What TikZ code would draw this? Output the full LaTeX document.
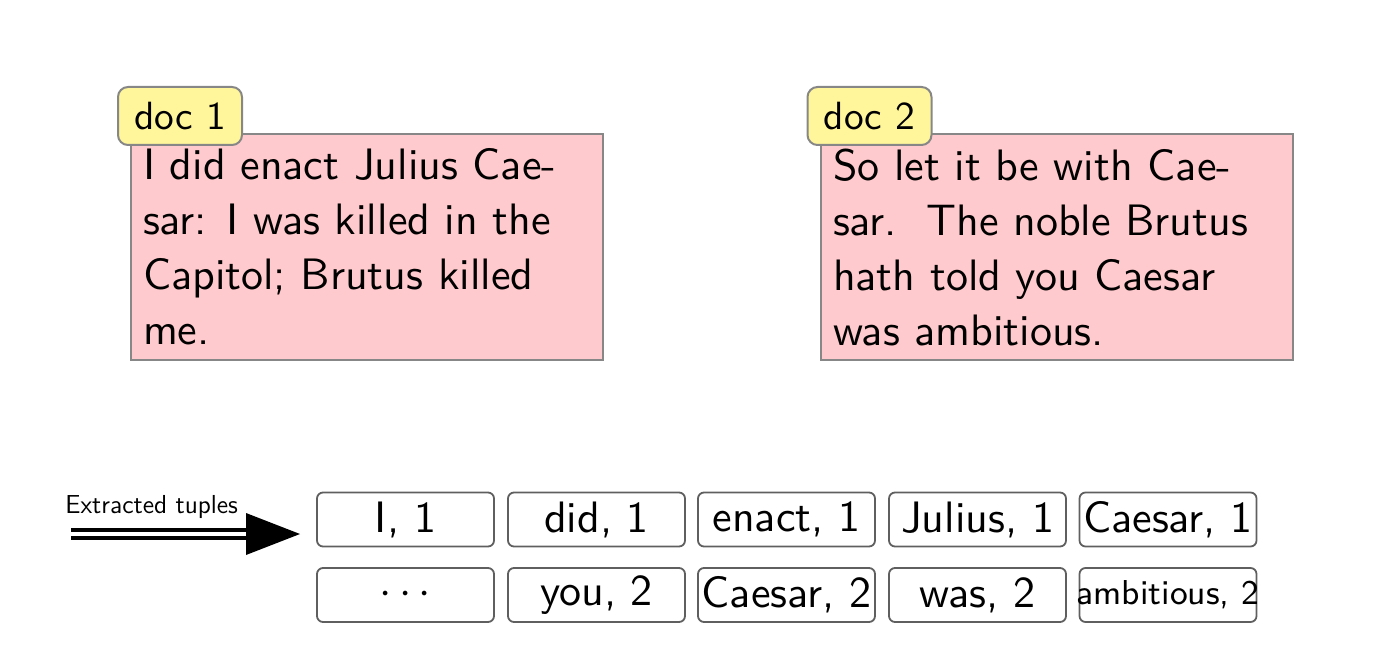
\documentclass[tikz,border=0pt]{standalone}
\usetikzlibrary{arrows.meta}
\renewcommand\familydefault{\sfdefault}
\definecolor{docpink}{RGB}{255,202,205}
\definecolor{labyellow}{RGB}{255,245,155}
\definecolor{docedge}{RGB}{135,135,135}
\definecolor{tupedge}{RGB}{95,95,95}
\newcommand\bigtxt[1]{\scalebox{2.009}{#1}}
\newcommand\doctxt[1]{\scalebox{2.009}{\parbox[t]{111.5pt}{\raggedright #1}}}
\begin{document}
\begin{tikzpicture}[x=0.5pt,y=-0.5pt,
  docbox/.style={draw=docedge, line width=1pt, fill=docpink, anchor=north west,
    minimum width=236pt, align=left, inner xsep=6pt, inner ysep=7.3pt,
    font=\fontsize{10.95}{13.7}\selectfont},
  doclabel/.style={draw=docedge, line width=1pt, fill=labyellow, rounded corners=5pt,
    minimum width=62pt, minimum height=29pt, inner sep=0pt,
    font=\fontsize{9.8}{12}\selectfont},
  tuple/.style={draw=tupedge, line width=0.9pt, rounded corners=3pt,
    minimum width=88.5pt, minimum height=27pt, inner sep=0.3pt,
    font=\fontsize{10.95}{13.7}\selectfont},
  smalltuple/.style={tuple, inner xsep=-3pt, font=\fontsize{8.6}{10.5}\selectfont},
  caption/.style={font=\fontsize{13}{15}\selectfont, inner sep=0pt},
]
\useasboundingbox (0,0) rectangle (1390,652);

% documents
\node[docbox] (d1) at (130,133) {\doctxt{I did enact Julius Cae-\\sar: I was killed in the\\Capitol; Brutus killed\\me.}};
\node[doclabel] (l1) at (180,116) {\bigtxt{doc 1}};
\node[docbox] (d2) at (820,133) {\doctxt{So let it be with Cae-\\sar.\ \ The noble Brutus\\hath told you Caesar\\was ambitious.}};
\node[doclabel] (l2) at (869.5,116) {\bigtxt{doc 2}};

% tuples
\node[tuple] (t11) at (405.5,519.5) {\bigtxt{I, 1}};
\node[tuple] (t12) at (596.5,519.5) {\bigtxt{did, 1}};
\node[tuple] (t13) at (786.5,519.5) {\bigtxt{enact, 1}};
\node[tuple] (t14) at (977.5,519.5) {\bigtxt{Julius, 1}};
\node[tuple] (t15) at (1168,519.5) {\bigtxt{Caesar, 1}};
\node[tuple] (t21) at (405.5,595) {\bigtxt{$\cdots$}};
\node[tuple] (t22) at (596.5,595) {\bigtxt{you, 2}};
\node[tuple] (t23) at (786.5,595) {\bigtxt{Caesar, 2}};
\node[tuple] (t24) at (977.5,595) {\bigtxt{was, 2}};
\node[smalltuple, minimum width=88.5pt] (t25) at (1168,595) {\bigtxt{ambitious, 2}};

% arrow
\coordinate (astart) at (71,534);
\coordinate (abase) at (246,534);
\coordinate (atip) at (300,534);
\node[caption, anchor=base west] (cap) at (65,513) {Extracted tuples};
\draw[line width=2.1pt, double=white, double distance=2pt] (astart) -- (abase);
\fill (atip) -- ([yshift=10.5pt]abase) -- ([yshift=-10.5pt]abase) -- cycle;
\end{tikzpicture}
\end{document}
